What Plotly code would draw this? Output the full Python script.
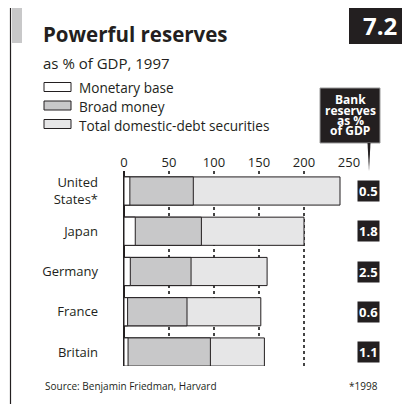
import plotly.graph_objects as go

countries = ["United<br>States*", "Japan", "Germany", "France", "Britain"]
monetary_base = [6.5, 12.5, 7, 4, 4.5]
broad_money = [77, 86, 74.5, 70, 96]
debt_securities = [240, 200, 159, 152, 156]
bank_reserves = ["0.5", "1.8", "2.5", "0.6", "1.1"]
x_ticks = [0, 50, 100, 150, 200, 250]

OFF = 8  # default page body margin
W, H = 410, 404
L, R, T, B = 124, 349, 171, 366
FONT = "Open Sans"
INK = "#231f20"

def px(x):
    return (x - L) / (R - L)

def py(y):
    return (B - y) / (B - T)

ypos = list(range(len(countries)))
fig = go.Figure()
for name, vals, col in [("Total domestic-debt securities", debt_securities, "#e6e6e7"),
                        ("Broad money", broad_money, "#c8c8c9"),
                        ("Monetary base", monetary_base, "#ffffff")]:
    fig.add_trace(go.Bar(y=ypos, x=vals, orientation="h", name=name, width=0.7,
                         marker=dict(color=col, line=dict(color=INK, width=1)),
                         showlegend=False, hoverinfo="skip"))

shapes = []
annotations = []
# frame lines
shapes.append(dict(type="line", xref="paper", yref="paper", x0=px(10.5), x1=px(10.5), y0=py(6), y1=py(404),
                   line=dict(color=INK, width=1.2)))
shapes.append(dict(type="line", xref="paper", yref="paper", x0=px(10), x1=px(349), y0=py(6), y1=py(6),
                   line=dict(color=INK, width=1.2)))
# grey tab
shapes.append(dict(type="rect", xref="paper", yref="paper", x0=px(12), x1=px(22), y0=py(7), y1=py(43),
                   fillcolor="#c8c8c9", line=dict(width=0)))
# 7.2 box
shapes.append(dict(type="rect", xref="paper", yref="paper", x0=px(349), x1=px(411), y0=py(6), y1=py(44),
                   fillcolor=INK, line=dict(width=0)))
annotations.append(dict(xref="paper", yref="paper", x=px(380), y=py(25), text="<b>7.2</b>", showarrow=False,
                        font=dict(family=FONT, size=24, color="white"), xanchor="center", yanchor="middle"))
# title & subtitle
annotations.append(dict(xref="paper", yref="paper", x=px(41), y=py(50), text="<b>Powerful reserves</b>",
                        showarrow=False, font=dict(family=FONT, size=20.5, color=INK), xanchor="left", yanchor="bottom"))
annotations.append(dict(xref="paper", yref="paper", x=px(41), y=py(63), text="as % of GDP, 1997",
                        showarrow=False, font=dict(family=FONT, size=15, color=INK), xanchor="left", yanchor="middle"))
# legend
for i, (name, col) in enumerate([("Monetary base", "#ffffff"), ("Broad money", "#c8c8c9"),
                                  ("Total domestic-debt securities", "#e6e6e7")]):
    yc = 87 + i * 18.5
    shapes.append(dict(type="rect", xref="paper", yref="paper", x0=px(44), x1=px(71), y0=py(yc - 4.5), y1=py(yc + 4.5),
                       fillcolor=col, line=dict(color=INK, width=1)))
    annotations.append(dict(xref="paper", yref="paper", x=px(77), y=py(yc + 1), text=name, showarrow=False,
                            font=dict(family=FONT, size=13.6, color=INK), xanchor="left", yanchor="middle"))
# bank reserves header
shapes.append(dict(type="rect", xref="paper", yref="paper", x0=px(320), x1=px(380), y0=py(88), y1=py(143),
                   fillcolor=INK, line=dict(color="#9a9a9a", width=1)))
shapes.append(dict(type="path", xref="paper", yref="paper",
                   path=f"M {px(367.5)},{py(143)} L {px(370.5)},{py(143)} L {px(369)},{py(171)} Z",
                   fillcolor=INK, line=dict(width=0)))
for txt, yc in [("Bank", 100), ("reserves", 110.5), ("as %", 120.5), ("of GDP", 130.5)]:
    annotations.append(dict(xref="paper", yref="paper", x=px(350), y=py(yc), text=f"<b>{txt}</b>", showarrow=False,
                            font=dict(family=FONT, size=12, color="white"), xanchor="center", yanchor="middle"))
# value boxes
for i, v in enumerate(bank_reserves):
    annotations.append(dict(xref="paper", yref="y", x=px(368), y=i, text=f"<b>{v}</b>", showarrow=False,
                            font=dict(family=FONT, size=13, color="white"), bgcolor=INK, borderpad=1,
                            xanchor="center", yanchor="middle"))
# footer
annotations.append(dict(xref="paper", yref="paper", x=px(43), y=py(386), text="Source: Benjamin Friedman, Harvard",
                        showarrow=False, font=dict(family=FONT, size=10, color=INK), xanchor="left", yanchor="middle"))
annotations.append(dict(xref="paper", yref="paper", x=px(380), y=py(386), text="*1998",
                        showarrow=False, font=dict(family=FONT, size=10, color=INK), xanchor="right", yanchor="middle"))

yr_top = -20 / 40.25
yr_bot = 4 + 14 / 40.25
fig.update_layout(
    width=W - OFF, height=H - OFF, margin=dict(l=L - OFF, r=W - R, t=T - OFF, b=H - B, pad=0),
    paper_bgcolor="white", plot_bgcolor="white", barmode="overlay",
    shapes=shapes, annotations=annotations, showlegend=False,
    font=dict(family=FONT, color=INK),
    xaxis=dict(side="top", range=[0, 250], tickvals=x_ticks, ticks="", showgrid=True,
               gridcolor="#444444", griddash="dot", gridwidth=1.5,
               zeroline=True, zerolinecolor=INK, zerolinewidth=1.5,
               tickfont=dict(family=FONT, size=13, color=INK), fixedrange=True),
    yaxis=dict(range=[yr_bot, yr_top], tickvals=ypos, ticktext=countries, showgrid=False, zeroline=False,
               ticks="", ticklabelstandoff=25, tickfont=dict(family=FONT, size=13, color=INK), fixedrange=True),
)
fig.write_html("out.html")
